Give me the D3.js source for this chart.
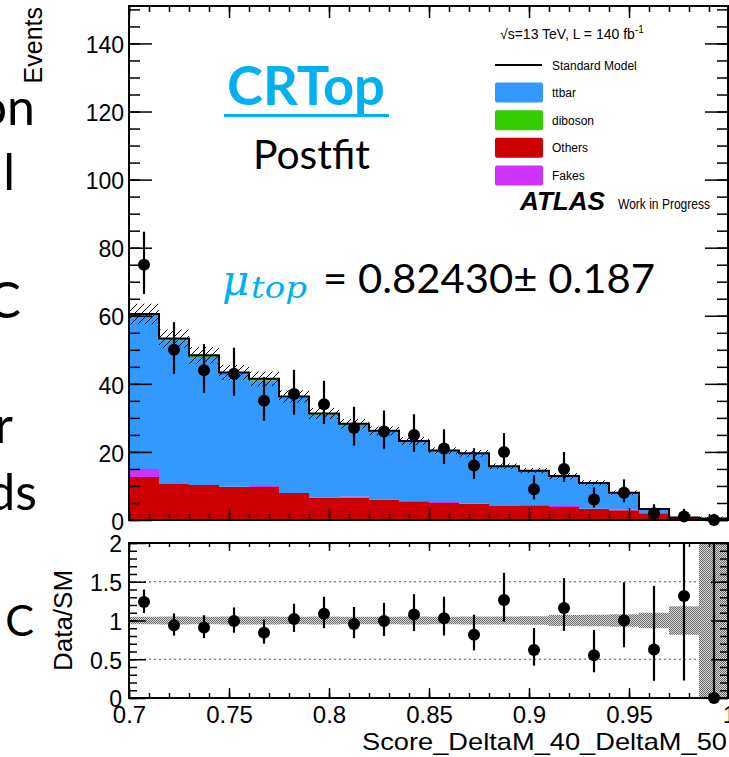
<!DOCTYPE html>
<html>
<head>
<meta charset="utf-8">
<script src="https://cdn.jsdelivr.net/npm/d3@7"></script>
<style>
  body { margin: 0; background: #fff; }
  svg { display: block; }
</style>
</head>
<body>
<div id="chart"></div>
<script>
// ---- data ----
const binEdges = [0.7, 0.715, 0.73, 0.745, 0.76, 0.775, 0.79, 0.805, 0.82, 0.835, 0.85,
                  0.865, 0.88, 0.895, 0.91, 0.925, 0.94, 0.955, 0.97, 0.985, 1.0];
const dataCounts = [75, 50, 44, 43, 35, 37, 34, 27, 26, 25, 21, 16, 20, 9, 15, 6, 8, 2, 1, 0];
const others  = [12.6, 10.6, 10.3, 9.8, 9.7, 7.9, 6.6, 6.5, 6.0, 5.5, 5.0, 4.8, 4.1, 4.3, 3.8, 3.3, 2.9, 2.0, 0.56, 0.3];
const fakes   = [2.4, 0, 0, 0, 0.3, 0, 0, 0.4, 0, 0, 0.3, 0, 0, 0, 0.3, 0, 0.1, 0, 0, 0.1];
const ttbar   = [44.9, 42.2, 37.6, 33.1, 31.0, 28.0, 24.4, 21.1, 20.0, 17.4, 14.9, 14.6, 11.5, 10.1, 8.7, 7.5, 4.9, 1.15, 0.2, 0.05];
const diboson = [0.6, 0.5, 0.5, 0.4, 0.5, 0.4, 0.3, 0.3, 0.2, 0.3, 0.2, 0.2, 0.2, 0.1, 0.1, 0.1, 0.1, 0.05, 0, 0];
const smUnc   = [3.0, 2.7, 2.4, 2.2, 2.1, 1.8, 1.6, 1.4, 1.3, 1.2, 1.0, 1.0, 0.8, 0.8, 0.9, 0.8, 0.65, 0.32, 0.14, 0.6];

const yTicksMain = [0, 20, 40, 60, 80, 100, 120, 140];
const yTicksRatio = [0, 0.5, 1, 1.5, 2];
const xTicks = [0.7, 0.75, 0.8, 0.85, 0.9, 0.95, 1.0];

const legendEntries = [
  { name: "Standard Model", type: "line", color: "#000" },
  { name: "ttbar", type: "box", color: "#3399ff" },
  { name: "diboson", type: "box", color: "#33cc00" },
  { name: "Others", type: "box", color: "#cc0000" },
  { name: "Fakes", type: "box", color: "#cc33ff" }
];
const stackKeys = ["others", "fakes", "ttbar", "diboson"];
const stackColors = { others: "#cc0000", fakes: "#cc33ff", ttbar: "#3399ff", diboson: "#33cc00" };

// clipped words of the slide text on the left
const slideWords = ["on", "l", "C", "r", "ds", "C"];

// ---- layout ----
const W = 729, H = 757;
const X0 = 129, X1 = 729;
const mainTop = 6, mainBot = 520;
const ratTop = 543, ratBot = 698;
const cyan = "#00b0f0";
const helv = '"Liberation Sans", Arial, Helvetica, sans-serif';
const calibri = 'Lato, "Open Sans", sans-serif';

const svg = d3.select("#chart").append("svg")
  .attr("width", W).attr("height", H)
  .style("background", "#fff");

const defs = svg.append("defs");
const hatch = defs.append("pattern").attr("id", "hatch")
  .attr("patternUnits", "userSpaceOnUse").attr("width", 7).attr("height", 7);
hatch.append("path").attr("d", "M-1,1 l2,-2 M0,7 l7,-7 M6,8 l2,-2")
  .attr("stroke", "#000").attr("stroke-width", 1);
const dots = defs.append("pattern").attr("id", "dots")
  .attr("patternUnits", "userSpaceOnUse").attr("width", 2).attr("height", 2);
dots.append("rect").attr("width", 2).attr("height", 2).attr("fill", "#d8d8d8");
dots.append("rect").attr("width", 1).attr("height", 1).attr("fill", "#6a6a6a");
dots.append("rect").attr("x", 1).attr("y", 1).attr("width", 1).attr("height", 1).attr("fill", "#6a6a6a");
defs.append("clipPath").attr("id", "clipMain").append("rect")
  .attr("x", X0).attr("y", mainTop).attr("width", X1 - X0).attr("height", mainBot - mainTop);
defs.append("clipPath").attr("id", "clipRat").append("rect")
  .attr("x", X0).attr("y", ratTop).attr("width", X1 - X0).attr("height", ratBot - ratTop);

const x = d3.scaleLinear().domain([0.7, 1.0]).range([X0, X1]);
const y = d3.scaleLinear().domain([0, 151]).range([mainBot, mainTop]);
const yr = d3.scaleLinear().domain([0, 2]).range([ratBot, ratTop]);

// table per bin, last edge repeats last bin for step curves
const rows = binEdges.slice(0, -1).map((e, i) => ({
  lo: e, hi: binEdges[i + 1], c: (e + binEdges[i + 1]) / 2,
  others: others[i], fakes: fakes[i], ttbar: ttbar[i], diboson: diboson[i],
  n: dataCounts[i], unc: smUnc[i]
}));
rows.forEach(r => { r.total = r.others + r.fakes + r.ttbar + r.diboson; });
const stepRows = rows.concat([Object.assign({}, rows[rows.length - 1], { lo: 1.0 })]);

function poissonErr(n) {
  const lo = n === 0 ? 0 : n - n * Math.pow(1 - 1 / (9 * n) - 1 / (3 * Math.sqrt(n)), 3);
  const up = (n + 1) * Math.pow(1 - 1 / (9 * (n + 1)) + 1 / (3 * Math.sqrt(n + 1)), 3) - n;
  return [lo, up];
}

// ---- main pad ----
const main = svg.append("g").attr("clip-path", "url(#clipMain)");
const series = d3.stack().keys(stackKeys)(stepRows);
series.forEach(s => {
  main.append("path")
    .datum(s)
    .attr("fill", stackColors[s.key])
    .attr("d", d3.area().curve(d3.curveStepAfter)
      .x(d => x(d.data.lo)).y0(d => y(d[0])).y1(d => y(d[1])));
});
main.append("path").datum(stepRows)
  .attr("fill", "url(#hatch)")
  .attr("d", d3.area().curve(d3.curveStepAfter)
    .x(d => x(d.lo)).y0(d => y(d.total - d.unc)).y1(d => y(d.total + d.unc)));
main.append("path").datum(stepRows)
  .attr("fill", "none").attr("stroke", "#000").attr("stroke-width", 2)
  .attr("d", d3.line().curve(d3.curveStepAfter).x(d => x(d.lo)).y(d => y(d.total)));
main.selectAll(".err").data(rows).enter().append("line")
  .attr("x1", d => x(d.c)).attr("x2", d => x(d.c))
  .attr("y1", d => y(d.n - poissonErr(d.n)[0]))
  .attr("y2", d => y(d.n + poissonErr(d.n)[1]))
  .attr("stroke", "#000").attr("stroke-width", 2.2);
svg.append("g").selectAll("circle").data(rows).enter().append("circle")
  .attr("cx", d => x(d.c)).attr("cy", d => y(d.n)).attr("r", 6).attr("fill", "#000");

// ---- ratio pad ----
const rat = svg.append("g").attr("clip-path", "url(#clipRat)");
rat.selectAll(".ref").data([0.5, 1, 1.5]).enter().append("line")
  .attr("x1", X0).attr("x2", X1).attr("y1", d => yr(d)).attr("y2", d => yr(d))
  .attr("stroke", "#555").attr("stroke-width", 1).attr("stroke-dasharray", "2,3");
rat.append("path").datum(stepRows)
  .attr("fill", "url(#dots)")
  .attr("d", d3.area().curve(d3.curveStepAfter)
    .x(d => x(d.lo)).y0(d => yr(1 - d.unc / d.total)).y1(d => yr(1 + d.unc / d.total)));
rat.selectAll(".rerr").data(rows).enter().append("line")
  .attr("x1", d => x(d.c)).attr("x2", d => x(d.c))
  .attr("y1", d => yr((d.n - poissonErr(d.n)[0]) / d.total))
  .attr("y2", d => yr((d.n + poissonErr(d.n)[1]) / d.total))
  .attr("stroke", "#000").attr("stroke-width", 2.2);
svg.append("g").selectAll("circle").data(rows).enter().append("circle")
  .attr("cx", d => x(d.c)).attr("cy", d => yr(d.n / d.total)).attr("r", 6).attr("fill", "#000");

// ---- axes ----
function styleAxis(g, size) {
  g.select(".domain").remove();
  g.selectAll("line").attr("stroke", "#000").attr("stroke-width", 1.5);
  g.selectAll("text").attr("font-family", helv).attr("font-size", size).attr("fill", "#000");
}
const fmt = d3.format("~g");
const none = () => "";
const yMinor = d3.range(0, 151, 5);
const rMinor = d3.range(0, 2.01, 0.1);
const xMinor = d3.range(0.7, 1.001, 0.01);

svg.append("g").attr("transform", `translate(${X0},0)`)
  .call(d3.axisLeft(y).tickValues(yMinor).tickSize(-11).tickFormat(none)).call(g => styleAxis(g, 23));
svg.append("g").attr("transform", `translate(${X0},0)`)
  .call(d3.axisLeft(y).tickValues(yTicksMain).tickSize(-23).tickPadding(5).tickFormat(fmt))
  .call(g => { styleAxis(g, 23); g.selectAll("text").attr("dy", "0.4em"); });
svg.append("g").attr("transform", `translate(${X1 - 1},0)`)
  .call(d3.axisRight(y).tickValues(yMinor).tickSize(-11).tickFormat(none)).call(g => styleAxis(g, 23));
svg.append("g").attr("transform", `translate(${X1 - 1},0)`)
  .call(d3.axisRight(y).tickValues(yTicksMain).tickSize(-23).tickFormat(none)).call(g => styleAxis(g, 23));
[[mainTop, d3.axisTop], [mainBot, d3.axisBottom]].forEach(([yy, ax]) => {
  svg.append("g").attr("transform", `translate(0,${yy})`)
    .call(ax(x).tickValues(xMinor).tickSize(-6).tickFormat(none)).call(g => styleAxis(g, 23));
  svg.append("g").attr("transform", `translate(0,${yy})`)
    .call(ax(x).tickValues(xTicks).tickSize(-12).tickFormat(none)).call(g => styleAxis(g, 23));
});

svg.append("g").attr("transform", `translate(${X0},0)`)
  .call(d3.axisLeft(yr).tickValues(rMinor).tickSize(-8).tickFormat(none)).call(g => styleAxis(g, 23));
svg.append("g").attr("transform", `translate(${X0},0)`)
  .call(d3.axisLeft(yr).tickValues(yTicksRatio).tickSize(-17).tickPadding(7).tickFormat(fmt))
  .call(g => { styleAxis(g, 23); g.selectAll("text").attr("dy", "0.38em"); });
svg.append("g").attr("transform", `translate(${X1 - 1},0)`)
  .call(d3.axisRight(yr).tickValues(rMinor).tickSize(-8).tickFormat(none)).call(g => styleAxis(g, 23));
svg.append("g").attr("transform", `translate(${X1 - 1},0)`)
  .call(d3.axisRight(yr).tickValues(yTicksRatio).tickSize(-17).tickFormat(none)).call(g => styleAxis(g, 23));
svg.append("g").attr("transform", `translate(0,${ratTop})`)
  .call(d3.axisTop(x).tickValues(xMinor).tickSize(-4).tickFormat(none)).call(g => styleAxis(g, 23));
svg.append("g").attr("transform", `translate(0,${ratTop})`)
  .call(d3.axisTop(x).tickValues(xTicks).tickSize(-8).tickFormat(none)).call(g => styleAxis(g, 23));
svg.append("g").attr("transform", `translate(0,${ratBot})`)
  .call(d3.axisBottom(x).tickValues(xMinor).tickSize(-5).tickFormat(none)).call(g => styleAxis(g, 23));
svg.append("g").attr("transform", `translate(0,${ratBot})`)
  .call(d3.axisBottom(x).tickValues(xTicks).tickSize(-10).tickPadding(8).tickFormat(fmt))
  .call(g => styleAxis(g, 24));

// frames
[[mainTop, mainBot], [ratTop, ratBot]].forEach(([t, b]) => {
  svg.append("rect").attr("x", X0).attr("y", t).attr("width", X1 - X0 - 1).attr("height", b - t)
    .attr("fill", "none").attr("stroke", "#000").attr("stroke-width", 2);
});

// axis titles
svg.append("text").attr("transform", "translate(42,7) rotate(-90)")
  .attr("text-anchor", "end").attr("font-family", helv).attr("font-size", 25).text("Events");
svg.append("text").attr("transform", `translate(72,${yr(1)}) rotate(-90)`)
  .attr("text-anchor", "middle").attr("font-family", helv).attr("font-size", 26).text("Data/SM");
svg.append("text").attr("x", 362).attr("y", 750)
  .attr("font-family", helv).attr("font-size", 24)
  .attr("textLength", 365).attr("lengthAdjust", "spacingAndGlyphs")
  .text("Score_DeltaM_40_DeltaM_50");

// ---- legend ----
const lum = svg.append("text").attr("x", 500).attr("y", 39)
  .attr("font-family", helv).attr("font-size", 14);
lum.append("tspan").text("\u221As=13 TeV, L = 140 fb");
lum.append("tspan").attr("dy", -6).attr("font-size", 10).text("-1");

const leg = svg.append("g").attr("font-family", helv).attr("font-size", 12);
legendEntries.forEach((e, i) => {
  const cy = 65 + i * 27.6;
  if (e.type === "line") {
    leg.append("line").attr("x1", 495).attr("x2", 542).attr("y1", cy).attr("y2", cy)
      .attr("stroke", e.color).attr("stroke-width", 2);
  } else {
    leg.append("rect").attr("x", 495).attr("y", cy - 10).attr("width", 48).attr("height", 20)
      .attr("rx", 2).attr("fill", e.color);
  }
  leg.append("text").attr("x", 552).attr("y", cy + 4.5).text(e.name);
});
svg.append("text").attr("x", 520).attr("y", 210)
  .attr("font-family", helv).attr("font-size", 25).attr("font-weight", "bold")
  .attr("font-style", "italic")
  .attr("textLength", 85).attr("lengthAdjust", "spacingAndGlyphs").text("ATLAS");
svg.append("text").attr("x", 618).attr("y", 209)
  .attr("font-family", helv).attr("font-size", 14)
  .attr("textLength", 92).attr("lengthAdjust", "spacingAndGlyphs").text("Work in Progress");

// ---- slide annotations ----
svg.append("text").attr("x", 227).attr("y", 105)
  .attr("font-family", calibri).attr("font-size", 54).attr("font-weight", "bold")
  .attr("fill", cyan).attr("textLength", 158).attr("lengthAdjust", "spacingAndGlyphs").text("CRTop");
svg.append("rect").attr("x", 224).attr("y", 114).attr("width", 165).attr("height", 3).attr("fill", cyan);
svg.append("text").attr("x", 253).attr("y", 169)
  .attr("font-family", calibri).attr("font-size", 40)
  .attr("textLength", 117).attr("lengthAdjust", "spacingAndGlyphs").text("Postfit");

svg.append("text").attr("x", 222).attr("y", 295)
  .attr("font-family", '"DejaVu Serif", serif').attr("font-style", "italic")
  .attr("font-size", 42).attr("fill", cyan).text("\u03BC");
svg.append("text").attr("x", 251).attr("y", 298)
  .attr("font-family", '"DejaVu Serif", serif').attr("font-style", "italic")
  .attr("font-size", 29).attr("fill", cyan)
  .attr("textLength", 56).attr("lengthAdjust", "spacingAndGlyphs").text("top");
svg.append("text").attr("x", 323).attr("y", 293)
  .attr("font-family", calibri).attr("font-size", 40)
  .attr("textLength", 332).attr("lengthAdjust", "spacingAndGlyphs")
  .text("= 0.82430\u00B1 0.187");

const wordPos = [[35, 125, 50], [15, 190, 50], [21, 318, 50], [13, 443, 50], [37, 510, 50], [34, 636, 43]];
slideWords.forEach((w, i) => {
  svg.append("text").attr("x", wordPos[i][0]).attr("y", wordPos[i][1])
    .attr("text-anchor", "end").attr("font-family", calibri)
    .attr("font-size", wordPos[i][2]).text(w);
});
</script>
</body>
</html>
